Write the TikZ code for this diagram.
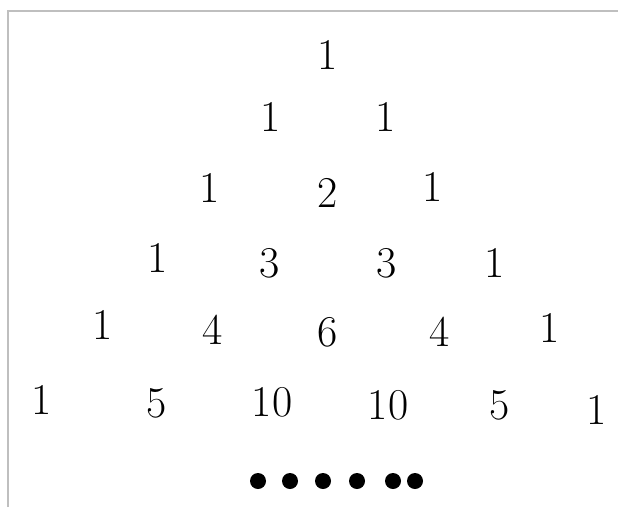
\documentclass[tikz,border=0pt]{standalone}
\usetikzlibrary{positioning}

\begin{document}
\begin{tikzpicture}[
  x=1pt, y=-1pt,
  entry/.style = {inner sep=0pt, font=\fontsize{44}{44}\selectfont},
  dot/.style = {circle, fill=black, inner sep=0pt, minimum size=16pt}
]
  \useasboundingbox (0,0) rectangle (618,507);

  % Frame
  \draw[line width=1.5pt, black!25] (8,507) -- (8,11) -- (618,11);

  % Row 0 and 1
  \node[entry] (r0_0) at (328,55) {1};
  \node[entry] (r1_0) at (271,117) {1};
  \node[entry] (r1_1) at (386,117) {1};

  % Row 2
  \node[entry] (r2_0) at (210,188) {1};
  \node[entry] (r2_1) at (328,193) {2};
  \node[entry] (r2_2) at (433,187) {1};

  % Row 3
  \node[entry] (r3_0) at (158,258) {1};
  \node[entry] (r3_1) at (270,263) {3};
  \node[entry] (r3_2) at (387,263) {3};
  \node[entry] (r3_3) at (495,263) {1};

  % Row 4
  \node[entry] (r4_0) at (103,325) {1};
  \node[entry] (r4_1) at (213,330) {4};
  \node[entry] (r4_2) at (328,332) {6};
  \node[entry] (r4_3) at (440,332) {4};
  \node[entry] (r4_4) at (550,328) {1};

  % Row 5
  \node[entry] (r5_0) at (42,400) {1};
  \node[entry] (r5_1) at (157,403) {5};
  \node[entry] (r5_2) at (272,402) {10};
  \node[entry] (r5_3) at (388,405) {10};
  \node[entry] (r5_4) at (500,405) {5};
  \node[entry] (r5_5) at (597,410) {1};

  % Continuation dots
  \node[dot] (d_0) at (258,481) {};
  \node[dot] (d_1) at (290,481) {};
  \node[dot] (d_2) at (323,481) {};
  \node[dot] (d_3) at (357,481) {};
  \node[dot] (d_4) at (393,481) {};
  \node[dot] (d_5) at (415,481) {};
\end{tikzpicture}
\end{document}
